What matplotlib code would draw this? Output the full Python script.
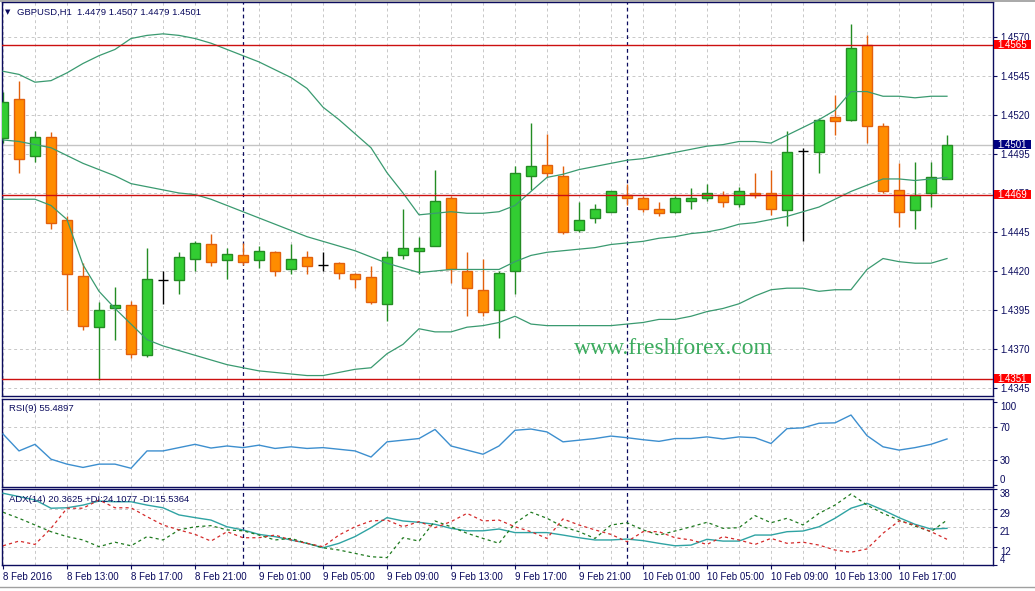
import numpy as np
import matplotlib.pyplot as plt
from matplotlib.patches import Rectangle
from matplotlib.lines import Line2D

# GBPUSD H1 candles, 8 Feb 09:00 .. 10 Feb 20:00
opens = [1.4505, 1.4530, 1.4494, 1.4506, 1.4453, 1.4417, 1.4384, 1.4396, 1.4398, 1.4366,
         1.4414, 1.4414, 1.4428, 1.4437, 1.4427, 1.4430, 1.4427, 1.4432, 1.4421, 1.4429,
         1.4424, 1.4425, 1.4418, 1.4416, 1.4399, 1.4430, 1.4433, 1.4436, 1.4467, 1.4420,
         1.4408, 1.4395, 1.4420, 1.4481, 1.4488, 1.4481, 1.4446, 1.4454, 1.4458, 1.4469,
         1.4467, 1.4460, 1.4458, 1.4465, 1.4467, 1.4469, 1.4463, 1.4470, 1.4470, 1.4459,
         1.4497, 1.4496, 1.4519, 1.4517, 1.4565, 1.4513, 1.4472, 1.4459, 1.4470, 1.4479]
highs = [1.4535, 1.4542, 1.4510, 1.4509, 1.4455, 1.4425, 1.4400, 1.4410, 1.4401, 1.4435,
         1.4420, 1.4432, 1.4439, 1.4444, 1.4435, 1.4438, 1.4436, 1.4433, 1.4437, 1.4433,
         1.4432, 1.4426, 1.4419, 1.4423, 1.4433, 1.4460, 1.4442, 1.4485, 1.4468, 1.4432,
         1.4428, 1.4420, 1.4487, 1.4515, 1.4508, 1.4487, 1.4464, 1.4463, 1.4471, 1.4476,
         1.4468, 1.4464, 1.4468, 1.4473, 1.4476, 1.4471, 1.4474, 1.4483, 1.4485, 1.4510,
         1.4499, 1.4518, 1.4533, 1.4578, 1.4571, 1.4515, 1.4489, 1.4490, 1.4490, 1.4507]
lows = [1.4502, 1.4483, 1.4490, 1.4447, 1.4395, 1.4382, 1.4350, 1.4376, 1.4364, 1.4365,
        1.4399, 1.4405, 1.4420, 1.4423, 1.4415, 1.4424, 1.4422, 1.4417, 1.4418, 1.4418,
        1.4420, 1.4415, 1.4409, 1.4399, 1.4388, 1.4428, 1.4418, 1.4436, 1.4412, 1.4391,
        1.4391, 1.4377, 1.4405, 1.4472, 1.4480, 1.4444, 1.4445, 1.4451, 1.4458, 1.4462,
        1.4458, 1.4455, 1.4457, 1.4460, 1.4465, 1.4461, 1.4461, 1.4467, 1.4456, 1.4449,
        1.4439, 1.4483, 1.4507, 1.4516, 1.4502, 1.4470, 1.4448, 1.4447, 1.4461, 1.4479]
closes = [1.4528, 1.4492, 1.4506, 1.4451, 1.4418, 1.4385, 1.4395, 1.4398, 1.4367, 1.4415,
          1.4414, 1.4429, 1.4438, 1.4426, 1.4431, 1.4426, 1.4433, 1.4420, 1.4428, 1.4423,
          1.4424, 1.4419, 1.4415, 1.4400, 1.4429, 1.4435, 1.4435, 1.4465, 1.4421, 1.4409,
          1.4394, 1.4419, 1.4483, 1.4487, 1.4483, 1.4445, 1.4453, 1.4460, 1.4471, 1.4467,
          1.4460, 1.4457, 1.4467, 1.4467, 1.4470, 1.4464, 1.4471, 1.4469, 1.4460, 1.4496,
          1.4497, 1.4517, 1.4516, 1.4563, 1.4513, 1.4471, 1.4458, 1.4469, 1.4480, 1.4501]

# Bollinger bands
bb_upper = [1.4548, 1.4546, 1.4541, 1.4542, 1.4547, 1.4553, 1.4558, 1.4562, 1.4569, 1.4571,
            1.4572, 1.4571, 1.4569, 1.4566, 1.4562, 1.4558, 1.4554, 1.4549, 1.4544, 1.4537,
            1.4525, 1.4517, 1.4508, 1.4499, 1.4483, 1.4470, 1.4456, 1.4457, 1.4458, 1.4457,
            1.4457, 1.4458, 1.4462, 1.4471, 1.4480, 1.4482, 1.4485, 1.4487, 1.4489, 1.4491,
            1.4492, 1.4494, 1.4496, 1.4498, 1.4500, 1.4501, 1.4503, 1.4503, 1.4502, 1.4507,
            1.4512, 1.4517, 1.4523, 1.4535, 1.4535, 1.4532, 1.4532, 1.4531, 1.4532, 1.4532]
bb_middle = [1.4504, 1.4503, 1.4501, 1.4499, 1.4494, 1.4489, 1.4485, 1.4481, 1.4476, 1.4474,
             1.4472, 1.4470, 1.4469, 1.4466, 1.4462, 1.4458, 1.4454, 1.4450, 1.4446, 1.4442,
             1.4439, 1.4436, 1.4433, 1.4429, 1.4425, 1.4422, 1.4419, 1.4420, 1.4421, 1.4421,
             1.4421, 1.4421, 1.4426, 1.4430, 1.4432, 1.4433, 1.4434, 1.4435, 1.4437, 1.4438,
             1.4439, 1.4441, 1.4442, 1.4444, 1.4445, 1.4447, 1.4450, 1.4451, 1.4453, 1.4455,
             1.4458, 1.4461, 1.4466, 1.4471, 1.4475, 1.4479, 1.4479, 1.4478, 1.4479, 1.4480]
bb_lower = [1.4466, 1.4466, 1.4466, 1.4462, 1.4453, 1.4424, 1.4407, 1.4396, 1.4386, 1.4376,
            1.4372, 1.4369, 1.4366, 1.4363, 1.4360, 1.4358, 1.4356, 1.4355, 1.4354, 1.4353,
            1.4353, 1.4355, 1.4357, 1.4358, 1.4367, 1.4373, 1.4383, 1.4381, 1.4381, 1.4384,
            1.4385, 1.4387, 1.4391, 1.4386, 1.4385, 1.4385, 1.4385, 1.4385, 1.4385, 1.4386,
            1.4387, 1.4389, 1.4389, 1.4391, 1.4394, 1.4396, 1.4399, 1.4404, 1.4408, 1.4409,
            1.4409, 1.4407, 1.4408, 1.4408, 1.4421, 1.4428, 1.4426, 1.4425, 1.4425, 1.4428]

rsi = [61.5, 41, 49, 31, 25, 21, 25, 25, 20, 41,
       41, 45, 49, 44.5, 47, 45, 48, 44, 46, 44,
       45, 43, 41, 33.6, 52, 54, 56, 67, 47, 42,
       37, 47, 66, 67.5, 64, 52, 54, 56, 59, 57,
       54.6, 52.6, 56, 56, 58, 55.5, 58, 57, 50, 68,
       69, 74.5, 75, 84.5, 59.5, 46, 42, 45, 49, 55.5]

adx = [36.1, 34.6, 33.1, 29.4, 29.6, 30.8, 32.6, 32.3, 32.3, 30.8,
       29.6, 26.4, 25.2, 24.1, 21.1, 19.7, 17.7, 16.7, 15.2, 13.7,
       11.7, 13.7, 16.7, 20.7, 25.2, 23.7, 23.1, 22.2, 20.4, 19.3,
       19.3, 20.1, 18.5, 18.5, 18.5, 17.4, 16.2, 15.2, 15.2, 15.6,
       14.9, 13.7, 12.6, 12.9, 15.5, 14.7, 14.7, 17.4, 17.4, 18.9,
       19.2, 21.1, 24.9, 29.4, 31.6, 28.6, 25.2, 22.2, 20.1, 20.4]
plus_di = [27.6, 24.9, 21.9, 18.9, 16.7, 15.2, 12.2, 14.2, 12.6, 16.7,
           15.2, 19.7, 21.1, 21.6, 19.7, 19.3, 17.4, 15.2, 15.9, 13.7,
           11.7, 10.7, 9.2, 7.7, 7.3, 16.2, 14.7, 23.7, 21.1, 18.2,
           15.9, 13.7, 22.7, 27.6, 24.9, 21.1, 18.9, 15.9, 21.9, 22.9,
           19.7, 17.4, 19.2, 21.1, 23.1, 20.4, 20.7, 26.1, 22.9, 24.9,
           21.9, 27.1, 30.8, 35.8, 30.8, 27.1, 24.1, 21.4, 18.9, 24.1]
minus_di = [12.6, 14.7, 13.2, 20.4, 29.4, 29.4, 33.1, 29.6, 29.6, 25.6,
            21.9, 19.7, 17.7, 14.7, 18.9, 16.2, 16.2, 17.4, 15.2, 13.7,
            12.2, 17.4, 21.1, 23.7, 24.1, 21.1, 23.4, 20.7, 23.4, 27.1,
            23.7, 24.1, 21.1, 18.9, 15.9, 24.6, 21.9, 19.7, 17.7, 14.4,
            18.9, 18.9, 16.2, 15.2, 13.2, 16.7, 15.2, 13.2, 15.9, 13.7,
            14.2, 12.9, 10.7, 9.7, 11.2, 18.2, 23.7, 21.9, 18.9, 15.5]

levels = [1.4565, 1.4469, 1.4351]
last_price = 1.4501
price_ticks = [1.4570, 1.4545, 1.4520, 1.4495, 1.4470, 1.4445, 1.4420, 1.4395, 1.4370, 1.4345]
date_ticks = [0, 4, 8, 12, 16, 20, 24, 28, 32, 36, 40, 44, 48, 52, 56]
date_labels = ['8 Feb 2016', '8 Feb 13:00', '8 Feb 17:00', '8 Feb 21:00', '9 Feb 01:00',
               '9 Feb 05:00', '9 Feb 09:00', '9 Feb 13:00', '9 Feb 17:00', '9 Feb 21:00',
               '10 Feb 01:00', '10 Feb 05:00', '10 Feb 09:00', '10 Feb 13:00', '10 Feb 17:00']
day_breaks = [15, 39]

W, H = 1035, 591
navy = '#0b0b5e'
grid_c = '#c8c8c8'
plt.rcParams['font.family'] = ['Liberation Sans', 'DejaVu Sans']

fig = plt.figure(figsize=(W / 100, H / 100), dpi=100)


def panel(top, bottom):
    return fig.add_axes([2 / W, 1 - bottom / H, 991 / W, (bottom - top) / H])


ax = panel(2, 396)
ax_rsi = panel(398.5, 487)
ax_adx = panel(489, 565)

x = np.arange(len(closes))
o = np.array(opens)
c = np.array(closes)
hi = np.array(highs)
lo = np.array(lows)

for a in (ax, ax_rsi, ax_adx):
    a.set_xlim(-0.0625, 61.875)
    for s in a.spines.values():
        s.set_color(navy)
        s.set_linewidth(1.0)
    a.yaxis.tick_right()
    a.tick_params(axis='y', direction='out', length=3, width=0.8, colors=navy,
                  labelsize=7, pad=2)
    a.tick_params(axis='x', bottom=False, labelbottom=False)
    for g in range(0, 62, 2):
        a.axvline(g, color=grid_c, lw=0.7, ls=(0, (3, 3)), zorder=0.5)
    for d in day_breaks:
        a.axvline(d, color=navy, lw=0.9, ls=(0, (3, 2.5)), zorder=1)

# main price panel
ax.set_ylim(1.43399, 1.45924)
ax.set_yticks(price_ticks)
ax.set_yticklabels(['%.4f' % p for p in price_ticks])
for p in price_ticks:
    ax.axhline(p, color=grid_c, lw=0.7, ls=(0, (3, 3)), zorder=0.5)
ax.axhline(last_price, color='#c4c4c4', lw=1.0, zorder=1)

bull = c > o
bear = c < o
doji = c == o
ax.vlines(x[bull], lo[bull], hi[bull], color='#238c23', lw=1.0, zorder=2)
ax.vlines(x[bear], lo[bear], hi[bear], color='#e2600c', lw=1.0, zorder=2)
ax.vlines(x[doji], lo[doji], hi[doji], color='black', lw=1.0, zorder=2)
ax.bar(x[bull], (c - o)[bull], bottom=o[bull], width=0.58, color='#32cd32',
       edgecolor='#238c23', linewidth=1.0, zorder=3)
ax.bar(x[bear], (o - c)[bear], bottom=c[bear], width=0.58, color='#ff8c00',
       edgecolor='#e2600c', linewidth=1.0, zorder=3)
ax.hlines(c[doji], x[doji] - 0.32, x[doji] + 0.32, color='black', lw=1.0, zorder=3)

for band in (bb_upper, bb_middle, bb_lower):
    ax.plot(x, band, color='#3a9a70', lw=0.9, zorder=4)

for lv in levels:
    ax.axhline(lv, color='#cc1010', lw=1.0, zorder=4.5)

# price boxes on the right scale
ylo, yhi = ax.get_ylim()
box_h = (yhi - ylo) * 9.0 / 394
tr = ax.get_yaxis_transform()
for lv, fc in [(levels[0], '#ff0000'), (levels[1], '#ff0000'), (levels[2], '#ff0000'),
               (last_price, '#000080')]:
    ax.add_patch(Rectangle((1 + 1.0 / 991, lv - box_h / 2), 37.0 / 991, box_h,
                           transform=tr, facecolor=fc, edgecolor='none',
                           clip_on=False, zorder=10))
    ax.text(1 + 19.5 / 991, lv, '%.4f' % lv, transform=tr, ha='center', va='center',
            color='white', fontsize=7, clip_on=False, zorder=11)

ax.text(671 / 991, 1 - 351.5 / 394, 'www.freshforex.com', transform=ax.transAxes,
        ha='center', va='baseline', fontsize=17, color='#3cab5e',
        family='Liberation Serif', zorder=6)

fig.text(5 / W, 1 - 12 / H, '\u25bc', fontsize=5, color=navy, va='center',
         family='DejaVu Sans')
fig.text(17 / W, 1 - 12 / H, 'GBPUSD,H1  1.4479 1.4507 1.4479 1.4501', fontsize=6.8,
         color=navy, va='center')

# RSI panel
ax_rsi.set_ylim(-2.7, 104.5)
ax_rsi.set_yticks([100, 70, 30, 0])
ax_rsi.set_yticklabels(['100', '70', '30', '0'])
labs = ax_rsi.get_yticklabels()
labs[0].set_va('top')
labs[3].set_va('bottom')
for lv in (70, 30):
    ax_rsi.axhline(lv, color=grid_c, lw=0.7, ls=(0, (3, 3)), zorder=0.5)
ax_rsi.plot(x, rsi, color='#3d8fcf', lw=1.0, zorder=3)
ax_rsi.text(7 / 991, 0.89, 'RSI(9) 55.4897', transform=ax_rsi.transAxes, fontsize=6.8,
            color=navy, va='center')

# ADX panel
ax_adx.set_ylim(4, 38)
ax_adx.set_yticks([38, 29, 21, 12, 4])
ax_adx.set_yticklabels(['38', '29', '21', '12', '4'])
labs = ax_adx.get_yticklabels()
for lb in labs[:4]:
    lb.set_va('top')
labs[4].set_va('bottom')
for lv in (29, 21, 12):
    ax_adx.axhline(lv, color=grid_c, lw=0.7, ls=(0, (3, 3)), zorder=0.5)
ax_adx.plot(x, adx, color='#2fa3a3', lw=1.0, zorder=3)
ax_adx.plot(x, plus_di, color='#1f7a1f', lw=0.9, ls=(0, (2.5, 2.5)), zorder=3)
ax_adx.plot(x, minus_di, color='#d42a2a', lw=0.9, ls=(0, (2.5, 2.5)), zorder=3)
ax_adx.text(7 / 991, 0.86, 'ADX(14) 20.3625 +DI:24.1077 -DI:15.5364',
            transform=ax_adx.transAxes, fontsize=6.8, color=navy, va='center')

ax_adx.set_xticks(date_ticks)
ax_adx.set_xticklabels(date_labels)
ax_adx.tick_params(axis='x', bottom=True, labelbottom=True, direction='out', length=3,
                   width=0.8, colors=navy, labelsize=7, pad=2)
for lb in ax_adx.get_xticklabels():
    lb.set_ha('left')

# window frame lines
fig.add_artist(Line2D([0, 1], [1 - 0.8 / H, 1 - 0.8 / H], color='#9a9a9a', lw=1.2))
fig.add_artist(Line2D([0, 1], [1 - 587 / H, 1 - 587 / H], color='#a0a0a0', lw=1.0))

fig.savefig('out.png', dpi=100)
